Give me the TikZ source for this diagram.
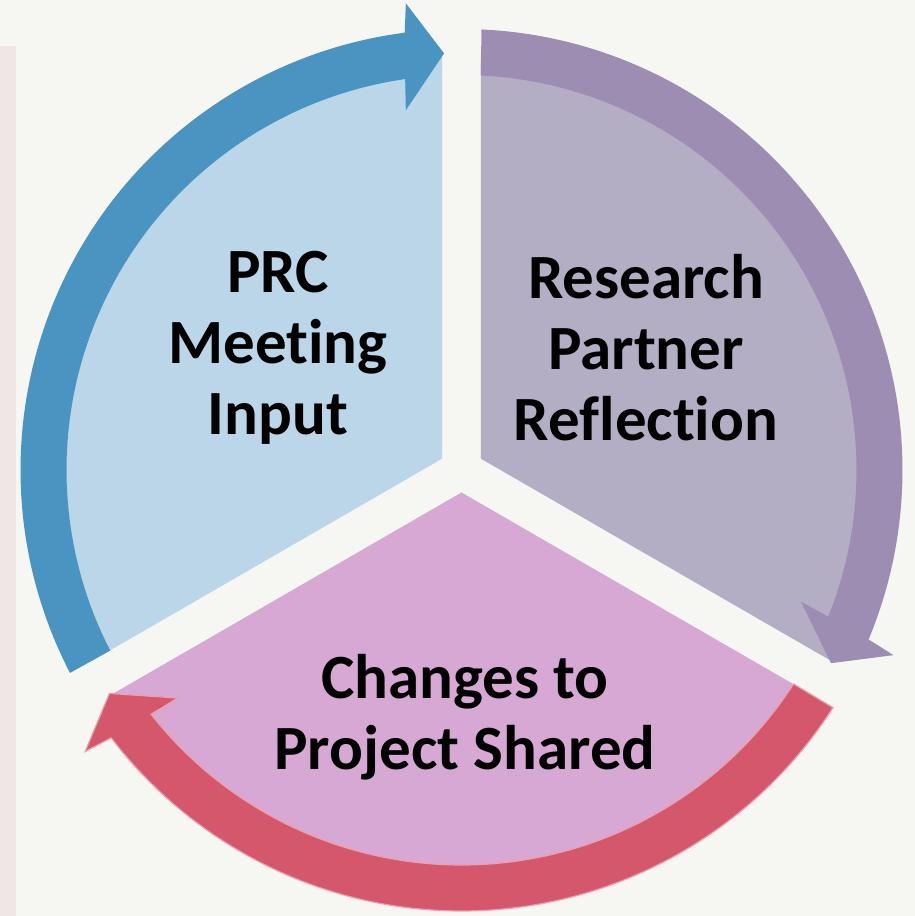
\documentclass[tikz,border=0pt]{standalone}
\usepackage{fontspec}
\setmainfont{Carlito}[Ligatures=NoCommon]
\definecolor{bg}{HTML}{F6F6F2}
\definecolor{strip}{HTML}{EFE6E5}
\definecolor{bluearr}{HTML}{4A94C2}
\definecolor{bluesec}{HTML}{BAD6E8}
\definecolor{purarr}{HTML}{9E8DB3}
\definecolor{pursec}{HTML}{B4AEC5}
\definecolor{pinksec}{HTML}{D7A8D4}
\definecolor{redarr}{HTML}{D5576C}
\definecolor{redline}{HTML}{EBA0AA}
\tikzset{
  lbl/.style={align=center, text=black, font=\fontsize{63}{71}\selectfont\bfseries, inner sep=0pt},
}
\begin{document}
\begin{tikzpicture}[x=1pt,y=1pt]
\useasboundingbox (0,0) rectangle (915,916);
\fill[bg] (0,0) rectangle (915,916);
\fill[strip] (0,0) rectangle (16,870);
\begin{scope}[shift={(461.5,446)}]
  % sectors
  \fill[bluesec] (150:22.5) -- (92.68:417) arc[start angle=92.68, end angle=207.32, radius=417] -- cycle;
  \fill[pursec] (30:22.5) -- (-27.32:417) arc[start angle=-27.32, end angle=87.32, radius=417] -- cycle;
  \fill[pinksec] (270:22.5) -- (212.68:417) arc[start angle=212.68, end angle=327.32, radius=417] -- cycle;
  % arrows
  \fill[bluearr] (207.4:441) arc[start angle=207.4, end angle=97.4, radius=441]
     -- (96.8:470) -- (92.4:417) -- (98.8:364) -- (98.2:395)
     arc[start angle=98.2, end angle=207.2, radius=395] -- cycle;
  \fill[purarr] (87.4:441) arc[start angle=87.4, end angle=-22.6, radius=441]
     -- (-23.2:470) -- (-27.6:417) -- (-21.2:364) -- (-21.8:395)
     arc[start angle=-21.8, end angle=87.2, radius=395] -- cycle;
  \filldraw[fill=redarr, draw=redline, line width=1.2pt, line join=miter] (327.4:441) arc[start angle=327.4, end angle=217.4, radius=441]
     -- (216.8:470) -- (212.4:417) -- (218.8:364) -- (218.2:395)
     arc[start angle=218.2, end angle=327.2, radius=395] -- cycle;
\end{scope}
\node[lbl] (prc) at (278,568) {PRC\\Meeting\\Input};
\node[lbl] (rpr) at (646,568) {Research\\Partner\\Reflection};
\node[lbl] (cps) at (465,199) {Changes to\\Project Shared};
\end{tikzpicture}
\end{document}
